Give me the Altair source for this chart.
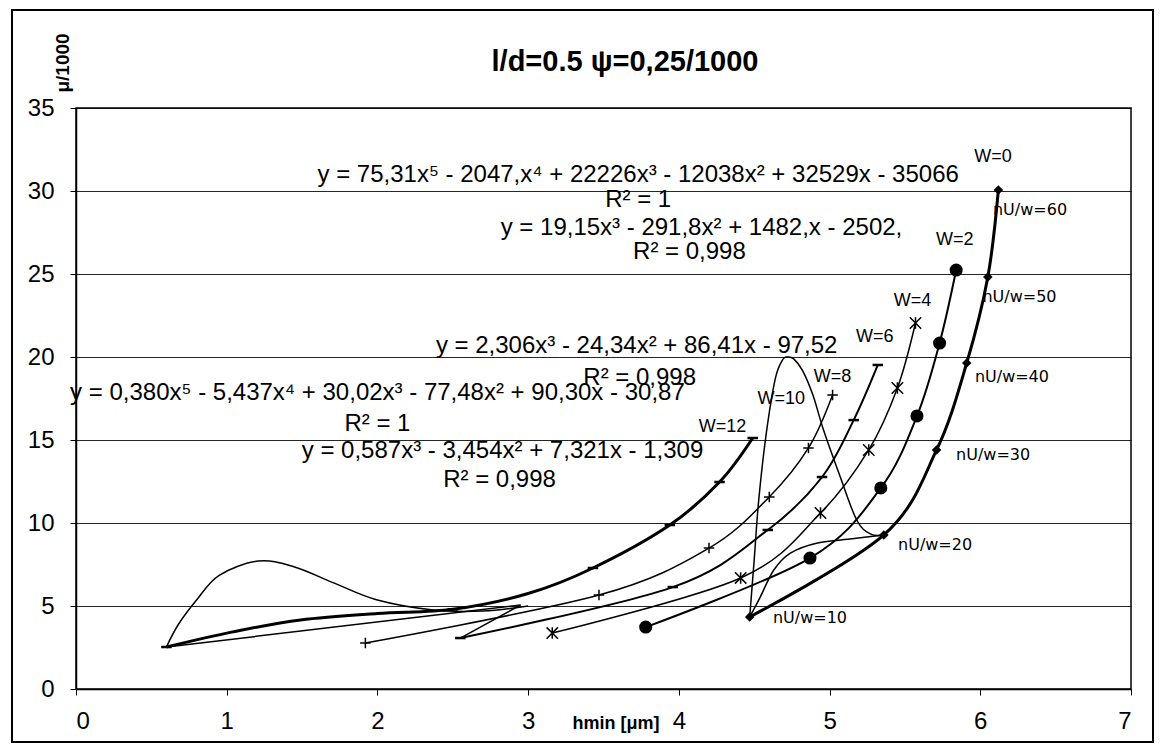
import altair as alt
import pandas as pd

# ---------------- data ----------------
X_TICKS = [0, 1, 2, 3, 4, 5, 6, 7]
Y_TICKS = [0, 5, 10, 15, 20, 25, 30, 35]

# measured series (one point per nU/w = 10..60)
W0_x = [4.47, 5.36, 5.71, 5.91, 6.05, 6.12]
W0_y = [4.34, 9.28, 14.40, 19.64, 24.82, 30.06]
W2_x = [3.78, 4.87, 5.34, 5.58, 5.73, 5.84]
W2_y = [3.73, 7.89, 12.11, 16.45, 20.84, 25.24]
W4_x = [3.16, 4.41, 4.94, 5.26, 5.45, 5.57]
W4_y = [3.37, 6.69, 10.60, 14.40, 18.13, 22.05]
W6_x = [2.55, 3.96, 4.59, 4.95, 5.16, 5.32]
W6_y = [3.07, 6.14, 9.58, 12.77, 16.20, 19.52]
W8_x = [1.92, 3.47, 4.20, 4.60, 4.86, 5.02]
W8_y = [2.77, 5.66, 8.49, 11.57, 14.52, 17.71]
W12_x = [0.60, 2.50, 3.43, 3.94, 4.27, 4.49]
W12_y = [2.53, 4.80, 7.29, 9.88, 12.47, 15.12]

# traced trend curves
T12_x = [0.60, 1.04, 1.49, 2.00, 2.50, 3.00, 3.43, 3.94, 4.27, 4.49]
T12_y = [2.53, 3.44, 4.16, 4.55, 4.80, 5.75, 7.29, 9.88, 12.47, 15.12]
T10_x = [0.60, 0.68, 0.80, 0.95, 1.21, 1.45, 1.71, 2.00, 2.37, 2.70, 3.00]
T10_y = [2.53, 3.90, 5.36, 6.85, 7.71, 7.35, 6.39, 5.36, 4.76, 4.70, 5.00]
ZIG_x = [0.60, 2.95, 2.55]
ZIG_y = [2.53, 5.06, 3.07]
T0_x = [4.47, 4.50, 4.53, 4.58, 4.64, 4.69, 4.72, 4.76, 4.82, 4.89, 4.96, 5.07, 5.18, 5.27, 5.36]
T0_y = [4.34, 7.80, 11.39, 15.40, 18.70, 19.85, 20.00, 19.90, 19.20, 17.70, 15.60, 12.80, 10.18, 9.35, 9.28]
B0_x = [4.47, 4.54, 4.63, 4.74, 4.92, 5.15, 5.36]
B0_y = [4.34, 5.54, 7.17, 8.19, 8.80, 9.05, 9.28]

# annotations
W_LABELS = ["W=0", "W=2", "W=4", "W=6", "W=8", "W=10", "W=12"]
W_LAB_X = [6.085, 5.83, 5.55, 5.30, 5.02, 4.68, 4.29]
W_LAB_Y = [32.05, 27.05, 23.4, 21.2, 18.8, 17.5, 15.8]
N_LABELS = ["nU/w=60", "nU/w=50", "nU/w=40", "nU/w=30", "nU/w=20", "nU/w=10"]
N_LAB_X = [6.33, 6.26, 6.21, 6.085, 5.70, 4.87]
N_LAB_Y = [28.86, 23.6, 18.8, 14.1, 8.7, 4.3]
EQ_TEXT = [
    "y = 75,31x⁵ - 2047,x⁴ + 22226x³ - 12038x² + 32529x - 35066",
    "R² = 1",
    "y = 19,15x³ - 291,8x² + 1482,x - 2502,",
    "R² = 0,998",
    "y = 2,306x³ - 24,34x² + 86,41x - 97,52",
    "R² = 0,998",
    "y = 0,380x⁵ - 5,437x⁴ + 30,02x³ - 77,48x² + 90,30x - 30,87",
    "R² = 1",
    "y = 0,587x³ - 3,454x² + 7,321x - 1,309",
    "R² = 0,998",
]
EQ_X = [3.73, 3.73, 4.15, 4.07, 3.72, 3.74, 2.00, 2.00, 2.83, 2.81]
EQ_Y = [30.95, 29.45, 27.8, 26.3, 20.65, 18.75, 17.85, 15.95, 14.35, 12.6]

TITLE = "l/d=0.5 ψ=0,25/1000"
Y_TITLE = "μ/1000"
X_TITLE = "hmin [μm]"

# ---------------- chart ----------------
FONT = "Liberation Sans"
xs = alt.Scale(domain=[0, 7], nice=False, zero=False)
ys = alt.Scale(domain=[0, 35], nice=False, zero=False)
xaxis = alt.Axis(values=X_TICKS, title=None, grid=False, format="d",
                 labelFont=FONT, labelFontSize=24, labelColor="black",
                 tickColor="black", tickSize=6, domainColor="black",
                 domainWidth=1.5, labelPadding=14)
yaxis = alt.Axis(values=Y_TICKS, title=None, grid=True, format="d",
                 gridColor="black", gridWidth=1, gridOpacity=0.85,
                 labelFont=FONT, labelFontSize=24, labelColor="black",
                 tickColor="black", tickSize=6, domainColor="black",
                 domainWidth=1.5, labelPadding=16)


def frame(xv, yv):
    return pd.DataFrame({"x": xv, "y": yv, "i": list(range(len(xv)))})


def enc(ch):
    return ch.encode(x=alt.X("x:Q", scale=xs, axis=xaxis),
                     y=alt.Y("y:Q", scale=ys, axis=yaxis))


def line(xv, yv, w, interp="cardinal"):
    c = alt.Chart(frame(xv, yv)).mark_line(color="black", strokeWidth=w,
                                           interpolate=interp)
    return enc(c).encode(order="i:Q")


STAR = "M-1,-1L1,1M-1,1L1,-1M0,-1L0,1"
PLUS = "M-1,0L1,0M0,-1L0,1"
DASH = "M-1,0L1,0"


def pts(xv, yv, shape, size, filled, sw=1.5):
    if filled:
        m = alt.Chart(frame(xv, yv)).mark_point(shape=shape, size=size, filled=True,
                                                color="black", opacity=1)
    else:
        m = alt.Chart(frame(xv, yv)).mark_point(shape=shape, size=size, filled=False,
                                                stroke="black", strokeWidth=sw, opacity=1)
    return enc(m)


layers = [
    line(T12_x, T12_y, 3.0),
    line(T10_x, T10_y, 1.5),
    line(ZIG_x, ZIG_y, 1.5, "linear"),
    line(T0_x, T0_y, 1.5),
    line(B0_x, B0_y, 1.5),
    line(W8_x, W8_y, 1.5),
    line(W6_x, W6_y, 2.0),
    line(W4_x, W4_y, 1.5),
    line(W2_x, W2_y, 2.0),
    line(W0_x, W0_y, 3.0),
    pts(W12_x, W12_y, DASH, 110, False, 2.5),
    pts(W8_x, W8_y, PLUS, 110, False, 1.5),
    pts(W6_x, W6_y, DASH, 110, False, 2.5),
    pts(W4_x, W4_y, STAR, 130, False, 1.5),
    pts(W2_x, W2_y, "circle", 170, True),
    pts(W0_x, W0_y, "diamond", 90, True),
]

wl = pd.DataFrame({"t": W_LABELS, "x": W_LAB_X, "y": W_LAB_Y})
layers.append(enc(alt.Chart(wl).mark_text(font=FONT, fontSize=18, color="black",
                                          align="center", baseline="middle")).encode(text="t:N"))
nl = pd.DataFrame({"t": N_LABELS, "x": N_LAB_X, "y": N_LAB_Y})
layers.append(enc(alt.Chart(nl).mark_text(font="DejaVu Sans", fontSize=16, color="black",
                                          align="center", baseline="middle")).encode(text="t:N"))
eq = pd.DataFrame({"t": EQ_TEXT, "x": EQ_X, "y": EQ_Y})
layers.append(enc(alt.Chart(eq).mark_text(font=FONT, fontSize=24, color="black",
                                          align="center", baseline="middle")).encode(text="t:N"))

one = pd.DataFrame({"t": [0]})
layers.append(alt.Chart(one).mark_text(text=TITLE, font=FONT, fontSize=29, fontWeight="bold",
                                       color="black", align="center", baseline="middle")
              .encode(x=alt.value(549), y=alt.value(-46)))
layers.append(alt.Chart(one).mark_text(text=Y_TITLE, font=FONT, fontSize=19, fontWeight="bold",
                                       color="black", align="center", baseline="middle", angle=270)
              .encode(x=alt.value(-13), y=alt.value(-45)))
layers.append(alt.Chart(one).mark_text(text=X_TITLE, font=FONT, fontSize=18, fontWeight="bold",
                                       color="black", align="center", baseline="middle")
              .encode(x=alt.value(540), y=alt.value(616)))
layers.append(alt.Chart(one).mark_rect(fill="transparent", stroke="black", strokeWidth=2)
              .encode(x=alt.value(-64), x2=alt.value(1077), y=alt.value(-98), y2=alt.value(634)))

chart = alt.layer(*layers).properties(
    width=1055, height=581,
    autosize=alt.AutoSizeParams(type="none"),
    padding={"left": 76, "top": 108, "right": 30, "bottom": 63},
    background="white",
).configure_view(stroke="black", strokeWidth=1.5)

chart.save("out.html", embed_options={"renderer": "svg", "actions": False})
